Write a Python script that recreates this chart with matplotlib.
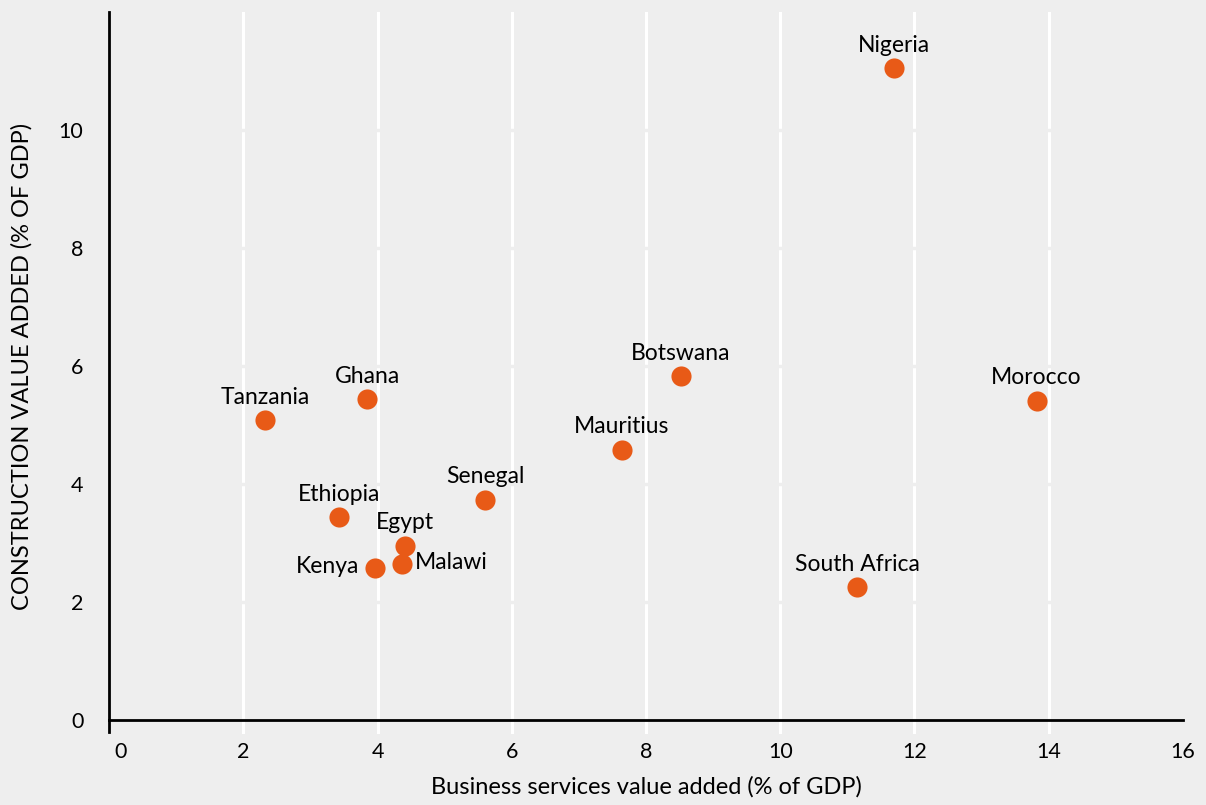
import matplotlib
matplotlib.use('Agg')
import matplotlib.pyplot as plt
from matplotlib.transforms import blended_transform_factory

# Business services vs construction value added, % of GDP
countries = ['Nigeria', 'Botswana', 'Morocco', 'Tanzania', 'Ghana', 'Mauritius',
             'Senegal', 'Ethiopia', 'Egypt', 'Malawi', 'Kenya', 'South Africa']
business = [11.69, 8.52, 13.82, 2.33, 3.85, 7.64, 5.60, 3.43, 4.41, 4.37, 3.96, 11.15]
construction = [11.05, 5.83, 5.41, 5.08, 5.44, 4.58, 3.73, 3.44, 2.95, 2.64, 2.58, 2.25]

x_ticks = [0, 2, 4, 6, 8, 10, 12, 14, 16]
y_ticks = [0, 2, 4, 6, 8, 10]
grid_x = [2, 4, 6, 8, 10, 12, 14]

BG = '#eeeeee'
DOT = '#e85a17'

plt.rcParams['font.family'] = ['Lato', 'DejaVu Sans']

fig = plt.figure(figsize=(12.06, 8.05), dpi=100, facecolor=BG)
ax = fig.add_axes([0.0904, 0.1056, 0.8905, 0.8795])
ax.set_facecolor(BG)

ax.scatter(business, construction, s=210, color=DOT, zorder=3, linewidths=0)

# label placement: most names sit above their dot
for name, x, y in zip(countries, business, construction):
    if name == 'Kenya':
        ax.annotate(name, (x, y), xytext=(-11, 1), textcoords='offset points',
                    ha='right', va='center', fontsize=16.5)
    elif name == 'Malawi':
        ax.annotate(name, (x, y), xytext=(9, 1), textcoords='offset points',
                    ha='left', va='center', fontsize=16.5)
    else:
        ax.annotate(name, (x, y), xytext=(0, 9), textcoords='offset points',
                    ha='center', va='bottom', fontsize=16.5)

ax.set_xlim(0, 16)
ax.set_ylim(0, 12)
ax.set_xticks(x_ticks)
ax.set_yticks(y_ticks)
# the "0" at the corner is drawn separately, nudged off the spine
ax.set_xticklabels([''] + [str(t) for t in x_ticks[1:]], fontsize=15.5)
ax.set_yticklabels([str(t) for t in y_ticks], fontsize=15.5)

trans = blended_transform_factory(ax.transData, ax.transAxes)
ax.annotate(str(x_ticks[0]), (x_ticks[0], 0), xycoords=trans, xytext=(8, -16),
            textcoords='offset points', ha='center', va='top', fontsize=15.5,
            annotation_clip=False)

# white vertical guides, and faint breaks along the horizontal levels
for gx in grid_x:
    ax.axvline(gx, color='white', linewidth=2.2, zorder=0)
ax.grid(axis='y', color=BG, linewidth=2.5, zorder=1)
ax.set_axisbelow(True)

ax.tick_params(axis='x', length=0, pad=16)
ax.tick_params(axis='y', length=0, pad=18.5)

# short white ticks hanging below the x axis
for gx in grid_x:
    ax.plot([gx, gx], [0, -0.017], transform=trans, color='white', lw=2.2,
            clip_on=False, zorder=2)

for side in ['top', 'right']:
    ax.spines[side].set_visible(False)
for side in ['left', 'bottom']:
    ax.spines[side].set_linewidth(2)
    ax.spines[side].set_color('black')
    ax.spines[side].set_zorder(4)

# the left spine runs a little past the bottom one
ax.plot([0, 0], [0, -0.017], transform=trans, color='black', lw=2, clip_on=False, zorder=4)

ax.set_xlabel('Business services value added (% of GDP)', fontsize=17, labelpad=10)
ax.set_ylabel('CONSTRUCTION VALUE ADDED (% OF GDP)', fontsize=17, labelpad=19)

fig.savefig('out.png', dpi=100, facecolor=BG)
